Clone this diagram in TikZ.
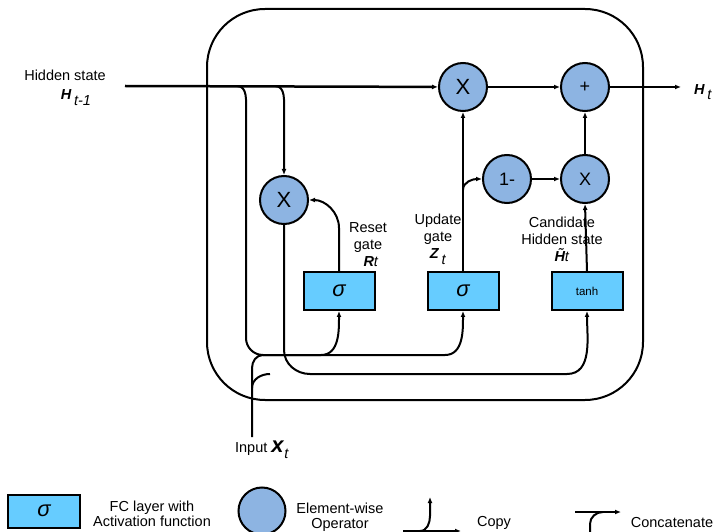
\documentclass[tikz,border=0pt]{standalone}
\usepackage{fontspec}
\setmainfont{Liberation Sans}
\usetikzlibrary{arrows.meta,positioning,calc}
\definecolor{opblue}{RGB}{141,180,226}
\definecolor{fcblue}{RGB}{102,204,255}

\begin{document}
\begin{tikzpicture}[x=1pt,y=-1pt,
  wire/.style={line width=2pt},
  arrow/.style={wire,-{Latex[length=6pt,width=5pt]}},
  op/.style={circle,draw,line width=2pt,fill=opblue,minimum size=48pt,inner sep=0pt,font=\fontsize{22}{22}\selectfont},
  fc/.style={rectangle,draw,line width=2pt,fill=fcblue,minimum width=71pt,minimum height=38pt,inner sep=0pt,font=\fontsize{22}{22}\selectfont\itshape},
  lbl/.style={align=center,font=\fontsize{14.5}{17}\selectfont}
]
\useasboundingbox (0,0) rectangle (716,532);

% GRU cell frame
\draw[wire,rounded corners=58pt] (207,9) rectangle (643,400);

% operators
\node[op] (mulh) at (463,87) {X};
\node[op,font=\fontsize{18}{18}\selectfont] (add) at (585,87) {+};
\node[op,font=\fontsize{18}{18}\selectfont] (minus) at (507,179) {1-};
\node[op,font=\fontsize{18}{18}\selectfont] (mulc) at (585,179) {X};
\node[op] (mulr) at (284,200) {X};

% FC layers
\node[fc] (reset) at (339,291) {σ};
\node[fc] (update) at (463,291) {σ};
\node[fc,font=\fontsize{11.5}{11.5}\selectfont] (cand) at (587,291) {tanh};

% labels
\node[lbl] (hprevtxt) at (65,75) {Hidden state};
\node[lbl] (hprev) at (76,98) {\textbf{\textit{H}}\,\raisebox{-6pt}{\textit{t-1}}};
\node[lbl] (hnext) at (703,92) {\textbf{\textit{H}}\,\raisebox{-5pt}{\textit{t}}};
\node[lbl] (xin) at (262,450) {Input \textbf{\textit{\fontsize{22}{22}\selectfont x}}\raisebox{-6pt}{\textit{t}}};
\node[lbl] (rlbl) at (368,245) {Reset\\gate\\\hspace*{6pt}\textbf{\textit{R}}\textit{t}};
\node[lbl] (zlbl) at (438,239) {Update\\gate\\\textbf{\textit{Z}}\,\raisebox{-6pt}{\textit{t}}};
\node[lbl] (hclbl) at (562,239) {Candidate\\Hidden state\\\textbf{\textit{\~{H}}}\textit{t}};

% junctions
\coordinate (hstart) at (125,86);
\coordinate (b1) at (237,86);
\coordinate (b2) at (275,86);
\coordinate (cat1) at (263,355);
\coordinate (cat2) at (270,374);
\coordinate (xbot) at (252,437);
\coordinate (xsplit) at (252,388);
\coordinate (zsplit) at (463,190);
\coordinate (hout) at (681,87);

% hidden state path
\draw[arrow,line width=2.5pt] (hstart) -- (mulh);
\draw[arrow] (mulh) -- (add);
\draw[arrow] (add) -- (hout);
\draw[wire] (b1) to[out=0,in=90] (246,112) -- (246,338) to[out=-90,in=180] (cat1);
\draw[arrow] (b2) to[out=0,in=90] (284,112) -- (mulr.north);

% input
\draw[wire] (xbot) -- (xsplit) -- (252,368) to[out=90,in=180] (cat1);
\draw[wire] (xsplit) to[out=90,in=180] (cat2);

% gates
\draw[arrow] (cat1) -- (321,355) to[out=0,in=-90] (reset.south);
\draw[arrow] (cat1) -- (445,355) to[out=0,in=-90] (update.south);
\draw[arrow] (reset.north) -- (339,228) to[out=90,in=0] (mulr.east);
\draw[arrow] (mulr.south) -- (284,350) to[out=-90,in=180] (cat2 -| 310,0) -- (567,374) to[out=0,in=-90] (cand.south);
\draw[arrow] (update.north) -- (mulh.south);
\draw[arrow] (zsplit) to[out=90,in=180] (minus.west);
\draw[arrow] (minus) -- (mulc);
\draw[arrow] (cand.north) -- (mulc.south);
\draw[arrow] (mulc) -- (add);

% legend
\node[fc,minimum width=72pt,minimum height=33pt] (legfc) at (44,511) {σ};
\node[lbl,font=\fontsize{14.5}{15}\selectfont] (legfctxt) at (152,514) {FC layer with\\Activation function};
\node[op,minimum size=47pt] (legop) at (262,511) {};
\node[lbl,font=\fontsize{14.5}{15}\selectfont] (legoptxt) at (340,517) {Element-wise\\Operator};
\coordinate (cpa) at (403,531);
\coordinate (cpb) at (461,531);
\coordinate (cpc) at (420,531);
\coordinate (cpd) at (430,497);
\draw[arrow] (cpa) -- (cpb);
\draw[arrow] (cpc) to[out=0,in=-90] (430,516) -- (cpd);
\node[lbl] (copytxt) at (494,523) {Copy};
\coordinate (cca) at (575,512);
\coordinate (ccb) at (621,512);
\coordinate (ccc) at (590,533);
\draw[arrow] (cca) -- (ccb);
\draw[wire] (ccc) -- (590,524) to[out=90,in=180] (603,512);
\node[lbl] (cattxt) at (672,523) {Concatenate};
\end{tikzpicture}
\end{document}
